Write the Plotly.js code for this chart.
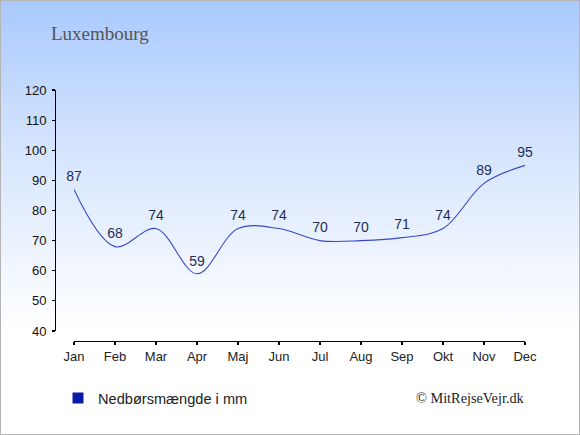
<!DOCTYPE html>
<html>
<head>
<meta charset="utf-8">
<script src="https://cdn.plot.ly/plotly-3.0.1.min.js"></script>
<style>
  html, body { margin: 0; padding: 0; }
  #wrap { width: 578px; height: 433px; border: 1px solid #b4b4b4;
          background: linear-gradient(to bottom, #a9c9fe 0px, #d6e5fe 150px, #ffffff 330px, #ffffff 433px); }
  #chart { width: 580px; height: 435px; position: absolute; left: 0; top: 0; }
</style>
</head>
<body>
<div id="wrap"></div>
<div id="chart"></div>
<script>
const months = ["Jan","Feb","Mar","Apr","Maj","Jun","Jul","Aug","Sep","Okt","Nov","Dec"];
const precipitation = [87, 68, 74, 59, 74, 74, 70, 70, 71, 74, 89, 95];
const yTicks = [40, 50, 60, 70, 80, 90, 100, 110, 120];
const seriesName = "Nedbørsmængde i mm";
const chartTitle = "Luxembourg";
const credit = "© MitRejseVejr.dk";

const W = 580, H = 435;
const L = 55, R = 525, T = 90, B = 341;

const traces = [
  {
    x: months, y: precipitation, type: "scatter", mode: "lines",
    line: { shape: "spline", smoothing: 1, color: "#3847c4", width: 1.1 },
    showlegend: false, hoverinfo: "skip"
  },
  {
    x: months, y: precipitation, type: "scatter", mode: "markers+text",
    marker: { size: 6, opacity: 0 },
    text: precipitation.map(String), textposition: "top center",
    textfont: { family: "Liberation Sans, Arial, sans-serif", size: 14, color: "#1f2d55" },
    showlegend: false, hoverinfo: "skip", cliponaxis: false
  },
  {
    x: [null], y: [null], type: "scatter", mode: "markers", name: seriesName,
    marker: { symbol: "square", size: 11, color: "#0a1aa6" },
    showlegend: true, hoverinfo: "skip"
  }
];

const layout = {
  width: W, height: H,
  paper_bgcolor: "rgba(0,0,0,0)", plot_bgcolor: "rgba(0,0,0,0)",
  margin: { l: L, r: W - R, t: T, b: H - B, pad: 0, autoexpand: false },
  font: { family: "Liberation Sans, Arial, sans-serif", size: 13, color: "#111" },
  title: {
    text: chartTitle, x: 51 / W, xanchor: "left", xref: "container",
    y: 1 - 33 / H, yanchor: "middle", yref: "container",
    font: { family: "Liberation Serif, Times New Roman, serif", size: 19, color: "#555" }
  },
  xaxis: {
    type: "category", categoryarray: months, range: [0, 11],
    domain: [19 / (R - L), 1], anchor: "free", position: 0,
    showline: true, linecolor: "#000", linewidth: 1.2,
    ticks: "outside", ticklen: 3, tickcolor: "#000", tickwidth: 1.2,
    showgrid: false, zeroline: false, fixedrange: true, tickangle: 0,
    automargin: false, ticklabelstandoff: 0,
    tickfont: { size: 13, color: "#222" }
  },
  yaxis: {
    range: [40, 120], tickvals: yTicks, ticktext: yTicks.map(String),
    domain: [10 / (B - T), 1], anchor: "free", position: 0,
    showline: true, linecolor: "#000", linewidth: 1.2,
    ticks: "outside", ticklen: 3, tickcolor: "#000", tickwidth: 1.2,
    showgrid: false, zeroline: false, fixedrange: true, automargin: false,
    ticklabelstandoff: 3,
    tickfont: { size: 13, color: "#111" }
  },
  legend: {
    x: 58 / W, xanchor: "left", y: 1 - 398 / H, yanchor: "middle",
    xref: "container", yref: "container",
    bgcolor: "rgba(0,0,0,0)", borderwidth: 0,
    font: { family: "Liberation Sans, Arial, sans-serif", size: 14.6, color: "#222" },
    itemwidth: 30, tracegroupgap: 0
  },
  annotations: [
    {
      text: credit, xref: "paper", yref: "paper",
      x: (527 - L) / (R - L), xanchor: "right",
      y: -(398 - B) / (B - T), yanchor: "middle",
      showarrow: false,
      font: { family: "Liberation Serif, Times New Roman, serif", size: 14.3, color: "#222" }
    }
  ],
  showlegend: true
};

Plotly.newPlot("chart", traces, layout, { displayModeBar: false, staticPlot: true });
</script>
</body>
</html>
